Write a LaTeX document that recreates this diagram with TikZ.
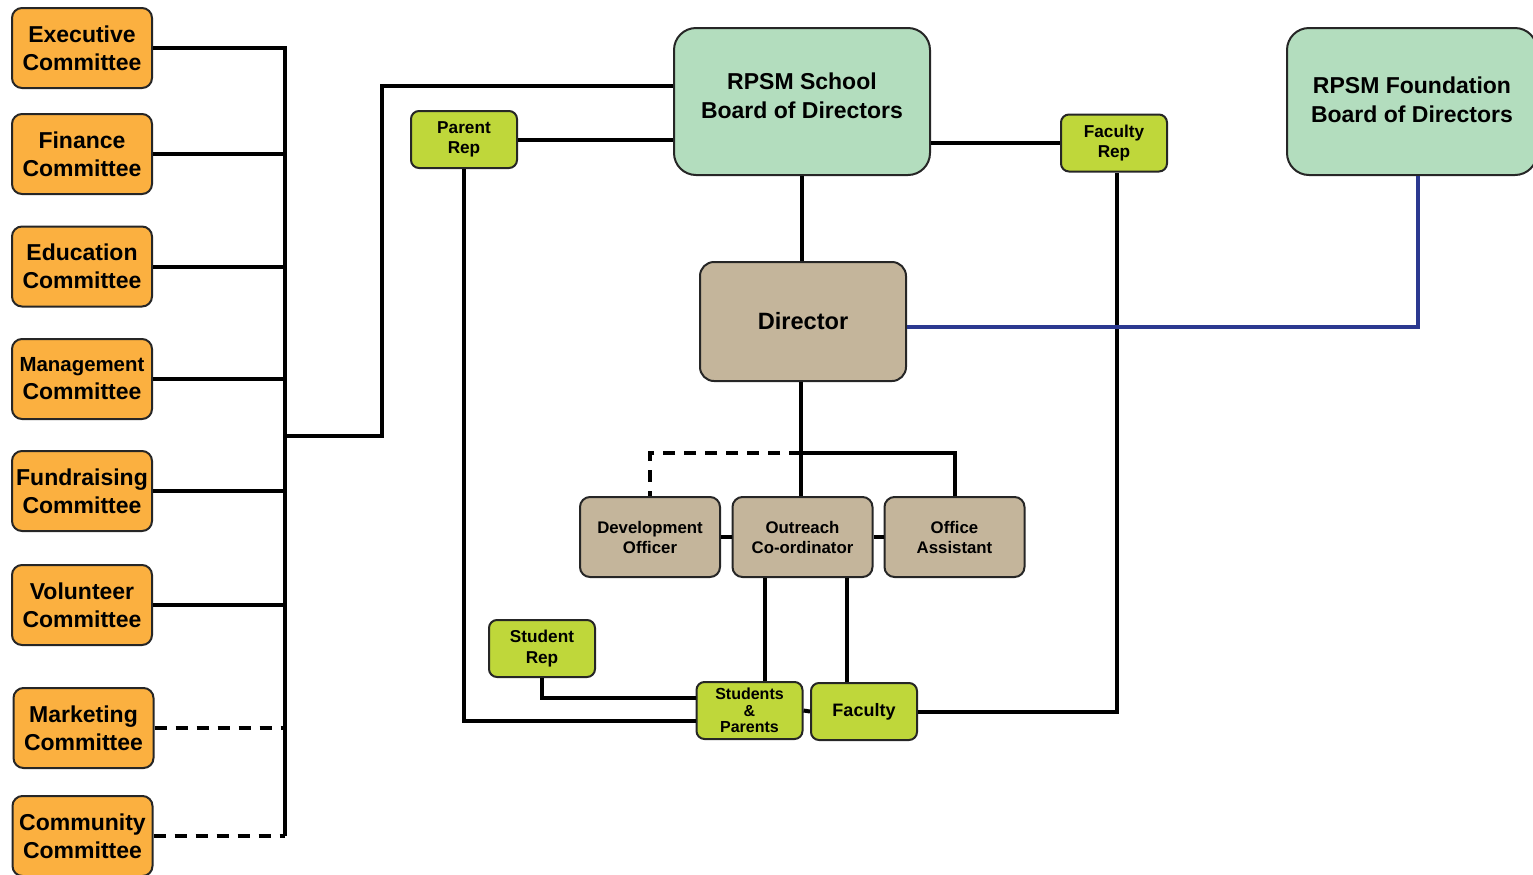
\documentclass[tikz,border=0pt]{standalone}
\usepackage{fontspec}
\setmainfont{Liberation Sans}
\usetikzlibrary{calc}

\definecolor{cmtorange}{RGB}{251,176,64}
\definecolor{boardgreen}{RGB}{179,221,190}
\definecolor{replime}{RGB}{191,215,58}
\definecolor{stafftan}{RGB}{196,181,155}
\definecolor{fdnblue}{RGB}{43,57,144}

\tikzset{
  box/.style={draw=black!85, line width=1pt, align=center, inner sep=1pt},
  cmt/.style={box, fill=cmtorange, rounded corners=5pt, minimum width=70pt, minimum height=40pt,
    font=\fontsize{11.5}{14}\selectfont\bfseries},
  board/.style={box, fill=boardgreen, rounded corners=11pt, minimum width=128pt, minimum height=73.5pt,
    font=\fontsize{11.5}{14.5}\selectfont\bfseries},
  headbox/.style={box, fill=stafftan, rounded corners=7pt, minimum width=103pt, minimum height=59.5pt,
    font=\fontsize{11.8}{14}\selectfont\bfseries},
  staff/.style={box, fill=stafftan, rounded corners=5pt, minimum width=70pt, minimum height=40pt,
    font=\fontsize{8.4}{10}\selectfont\bfseries},
  rep/.style={box, fill=replime, rounded corners=4pt, minimum width=53pt, minimum height=28.5pt,
    font=\fontsize{8.6}{10.3}\selectfont\bfseries},
  conn/.style={line width=2pt, black},
  dashline/.style={conn, dash pattern=on 6pt off 4.5pt},
  fdnline/.style={line width=2pt, fdnblue}
}

\begin{document}
\begin{tikzpicture}[x=0.5pt, y=-0.5pt]

  \useasboundingbox (0,0) rectangle (1533,874);

  %% committees
  \node[cmt] (exec) at (82,48)    {Executive\\Committee};
  \node[cmt] (fin)  at (82,154)   {Finance\\Committee};
  \node[cmt] (edu)  at (82,266.5) {Education\\Committee};
  \node[cmt] (mgmt) at (82,379)   {{\fontsize{10.2}{12}\selectfont Management}\\Committee};
  \node[cmt] (fund) at (82,491)   {Fundraising\\Committee};
  \node[cmt] (vol)  at (82,605)   {Volunteer\\Committee};
  \node[cmt] (mkt)  at (83.5,728) {Marketing\\Committee};
  \node[cmt] (comm) at (82.5,836) {Community\\Committee};

  %% boards
  \node[board, text depth=6pt] (school) at (802,101.5)  {RPSM School\\Board of Directors};
  \node[board, minimum width=125pt, text depth=2pt] (found) at (1412,101.5) {RPSM Foundation\\Board of Directors};

  \node[headbox] (director) at (803,321.5) {Director};

  %% staff
  \node[staff] (devoff)   at (650,537)   {Development\\Officer};
  \node[staff] (outreach) at (802.5,537) {Outreach\\Co-ordinator};
  \node[staff] (office)   at (954.5,537) {Office\\Assistant};

  %% reps
  \node[rep] (parent) at (464,139.5)  {Parent\\Rep};
  \node[rep] (facrep) at (1114,143)   {Faculty\\Rep};
  \node[rep] (strep)  at (542,648.5)  {Student\\Rep};
  \node[rep, font=\fontsize{8}{8.3}\selectfont\bfseries] (sp) at (749.5,710.5) {Students\\\&\\Parents};
  \node[rep, font=\fontsize{9}{11}\selectfont\bfseries] (fac) at (864,711.5) {Faculty};

  \coordinate (bus) at (285,436);
  \coordinate (jn)  at (801,453);

  %% committee bus
  \draw[conn] (exec.east) -| (bus |- comm.east);
  \foreach \n in {fin,edu,mgmt,fund,vol}
    \draw[conn] (\n.east) -- (\n.east -| bus);
  \foreach \n in {mkt,comm}
    \draw[dashline] (\n.east) -- (\n.east -| bus);
  \draw[conn] (bus) -- ++(97,0) |- ([yshift=7.75pt]school.west); %% bus -> school

  \draw[conn] (parent.east) -- (parent.east -| school.west);
  \draw[conn] (school.east |- facrep.west) -- (facrep.west);
  \draw[conn] (school.south) -- (school.south |- director.north);

  %% director -> staff
  \draw[conn] (director.south -| jn) -- (outreach.north -| jn);
  \draw[conn] (jn) -| (office.north);
  \draw[dashline] (jn) -| (devoff.north);
  \draw[conn] (devoff.east) -- (outreach.west);
  \draw[conn] (outreach.east) -- (office.west);

  %% staff -> students, faculty
  \draw[conn] ([xshift=-18.75pt]outreach.south) -- ([xshift=-18.75pt]outreach.south |- sp.north);
  \draw[conn] ([xshift=22.25pt]outreach.south) -- ([xshift=22.25pt]outreach.south |- fac.north);
  \draw[conn] (sp.east) -- (fac.west);
  \draw[conn] (fac.east) -| ([xshift=1.5pt]facrep.south);
  \draw[conn] (parent.south) |- ([yshift=-5.25pt]sp.west);
  \draw[conn] (strep.south) |- ([yshift=6.25pt]sp.west);

  \draw[fdnline] ([xshift=3pt]found.south) |- ([yshift=-2.75pt]director.east); %% foundation -> director

\end{tikzpicture}
\end{document}
